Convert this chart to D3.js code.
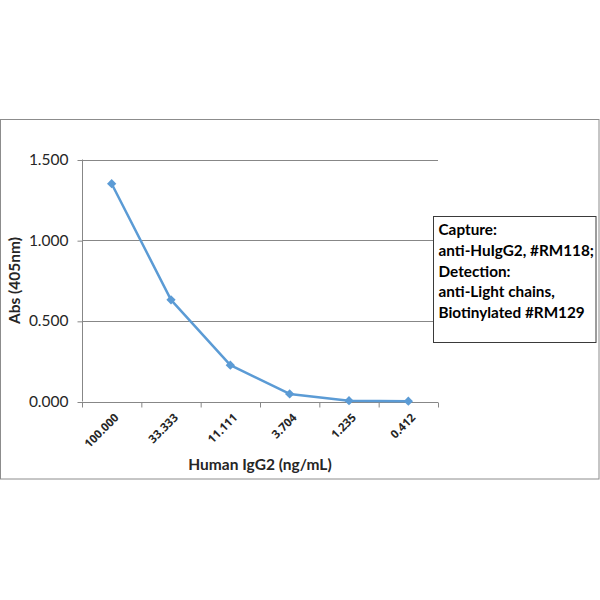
<!DOCTYPE html>
<html><head><meta charset="utf-8">
<script src="https://cdn.jsdelivr.net/npm/d3@7"></script>
<style>body{margin:0;background:#fff}svg{display:block}</style>
</head><body>
<script>
const categories = ["100.000","33.333","11.111","3.704","1.235","0.412"];
const values = [1.350, 0.630, 0.225, 0.047, 0.005, 0.002];
const yTicks = [0, 0.5, 1.0, 1.5];
const legendLines = ["Capture:","anti-HuIgG2, #RM118;","Detection:","anti-Light chains,","Biotinylated #RM129"];
const xTitle = "Human IgG2 (ng/mL)";
const yTitle = "Abs (405nm)";

const font = "Lato, 'Open Sans', sans-serif";
const svg = d3.select("body").append("svg").attr("width",600).attr("height",600);
svg.append("rect").attr("width",600).attr("height",600).attr("fill","#fff");
svg.append("rect").attr("x",0.5).attr("y",119.5).attr("width",598.5).attr("height",359.5)
  .attr("fill","none").attr("stroke","#8c8c8c").attr("stroke-width",1);

const L=82, R=438, T=159.5, B=401.5;
const x = d3.scaleBand().domain(categories).range([L,R]);
const y = d3.scaleLinear().domain([0,1.5]).range([B,T]);

// gridlines
svg.append("g").selectAll("line").data(yTicks.filter(d=>d>0)).join("line")
  .attr("x1",L).attr("x2",R).attr("y1",d=>Math.round(y(d))+0.5).attr("y2",d=>Math.round(y(d))+0.5)
  .attr("stroke","#878787").attr("stroke-width",1);

// y axis
const ya = svg.append("g").attr("transform",`translate(${L+0.5},0)`)
  .call(d3.axisLeft(y).tickValues(yTicks).tickFormat(d3.format(".3f")).tickSize(5).tickPadding(9));
ya.selectAll("text").attr("font-family",font).attr("font-size",15.5).attr("fill","#262626");
ya.selectAll("line").attr("stroke","#878787");
ya.select(".domain").attr("stroke","#878787").attr("d",`M0,${T}V${B}`);
ya.selectAll(".tick line").attr("transform","translate(0,0.5)");

// x axis
const xa = svg.append("g").attr("transform",`translate(0,${Math.round(B)+0.5})`)
  .call(d3.axisBottom(x).tickSize(0).tickFormat(""));
xa.select(".domain").attr("stroke","#878787").attr("d",`M${L},0H${R}`);
xa.selectAll("line.bt").data(d3.range(categories.length+1)).join("line").attr("class","bt")
  .attr("x1",i=>L+i*x.step()+0.5).attr("x2",i=>L+i*x.step()+0.5).attr("y1",0).attr("y2",5)
  .attr("stroke","#878787");
xa.selectAll("text.lab").data(categories).join("text").attr("class","lab")
  .attr("transform",d=>`translate(${x(d)+x.bandwidth()/2+5},13) rotate(-45)`)
  .attr("text-anchor","end").attr("dy","0.35em")
  .attr("font-family","'Open Sans', sans-serif").attr("font-size",11.5).attr("font-weight","bold").attr("fill","#262626")
  .text(d=>d);

// line
const line = d3.line().x((d,i)=>x(categories[i])+x.bandwidth()/2).y(d=>y(d));
svg.append("path").datum(values).attr("d",line).attr("fill","none")
  .attr("stroke","#5B9BD5").attr("stroke-width",2.5).attr("stroke-linejoin","round");
svg.append("g").selectAll("path").data(values).join("path")
  .attr("d",d3.symbol().type(d3.symbolDiamond2).size(55))
  .attr("transform",(d,i)=>`translate(${x(categories[i])+x.bandwidth()/2},${y(d)})`)
  .attr("fill","#5B9BD5");

// titles
svg.append("text").attr("x",260).attr("y",470).attr("text-anchor","middle")
  .attr("font-family",font).attr("font-size",15.5).attr("font-weight","bold").attr("fill","#262626").text(xTitle);
svg.append("text").attr("transform",`translate(20,${(T+B)/2}) rotate(-90)`).attr("text-anchor","middle")
  .attr("font-family",font).attr("font-size",15.5).attr("font-weight","bold").attr("fill","#262626").text(yTitle);

// legend
const lg = svg.append("g");
lg.append("rect").attr("x",433.5).attr("y",216.5).attr("width",162.5).attr("height",126)
  .attr("fill","#fff").attr("stroke","#3a3a3a").attr("stroke-width",1);
lg.selectAll("text").data(legendLines).join("text")
  .attr("x",438.5).attr("y",(d,i)=>230+i*20.6).attr("dy","0.35em")
  .attr("font-family",font).attr("font-size",15.3).attr("font-weight","bold").attr("fill","#000")
  .text(d=>d);
</script>
</body></html>
